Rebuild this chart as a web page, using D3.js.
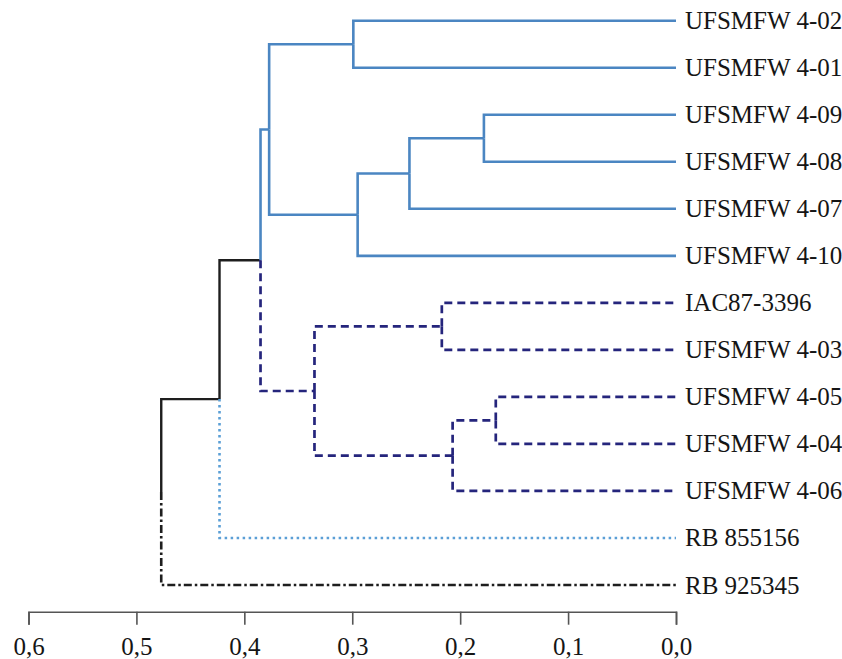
<!DOCTYPE html>
<html>
<head>
<meta charset="utf-8">
<script src="https://cdn.jsdelivr.net/npm/d3@7"></script>
<style>
  body { margin: 0; background: #fff; }
</style>
</head>
<body>
<div id="chart"></div>
<script>
// leaves, top to bottom
var leafNames = [
    "UFSMFW 4-02", "UFSMFW 4-01", "UFSMFW 4-09", "UFSMFW 4-08",
    "UFSMFW 4-07", "UFSMFW 4-10", "IAC87-3396", "UFSMFW 4-03",
    "UFSMFW 4-05", "UFSMFW 4-04", "UFSMFW 4-06", "RB 855156", "RB 925345"
];
var leafGroup = ["I", "I", "I", "I", "I", "I", "II", "II", "II", "II", "II", "III", "IV"];

// merges: index < 13 is a leaf, otherwise 13 + merge row
var mergePairs = [
    [0, 1], [2, 3], [14, 4], [15, 5], [13, 16],
    [6, 7], [8, 9], [19, 10], [18, 20], [17, 21],
    [22, 11], [23, 12]
];
var mergeHeights = [0.299, 0.178, 0.247, 0.295, 0.377,
                    0.217, 0.167, 0.207, 0.335, 0.385,
                    0.423, 0.477];

var tickValues = [0.6, 0.5, 0.4, 0.3, 0.2, 0.1, 0.0];

var width = 842, height = 659;

var svg = d3.select("#chart")
    .append("svg")
    .attr("width", width)
    .attr("height", height);

// build the tree from the merge table
var nodes = leafNames.map((name, i) => ({ name: name, height: 0, group: leafGroup[i] }));
mergePairs.forEach((p, i) => {
    nodes.push({ name: "n" + (13 + i), height: mergeHeights[i], children: [nodes[p[0]], nodes[p[1]]] });
});
var root = d3.hierarchy(nodes[nodes.length - 1]);

// group of an inner node = shared group of its leaves, or "root"
root.eachAfter(d => {
    if (!d.children) { d.group = d.data.group; return; }
    var g = d.children.map(c => c.group);
    d.group = g.every(v => v === g[0]) ? g[0] : "root";
});

var x = d3.scaleLinear()
    .domain([0.6, 0])
    .range([28.5, 676]);

var yLeaf = d3.scalePoint()
    .domain(leafNames)
    .range([20.7, 585]);

root.eachAfter(d => {
    d.px = x(d.data.height);
    d.py = d.children ? d3.mean(d.children, c => c.py) : yLeaf(d.data.name);
});

var styles = {
    "I":    { color: "#4b86c2", w: 2.6, dash: null },
    "II":   { color: "#25257c", w: 2.7, dash: "8,5" },
    "III":  { color: "#5b9fd6", w: 2.6, dash: "2.5,3.5" },
    "IV":   { color: "#1e1e1e", w: 2.6, dash: "8,3,2.5,3" },
    "root": { color: "#1e1e1e", w: 2.4, dash: null }
};

svg.append("g")
    .selectAll("path")
    .data(root.descendants().filter(d => d.parent))
    .enter()
    .append("path")
    .attr("d", d => "M" + d.parent.px + "," + d.parent.py + "V" + d.py + "H" + d.px)
    .attr("fill", "none")
    .attr("stroke", d => styles[d.group].color)
    .attr("stroke-width", d => styles[d.group].w)
    .attr("stroke-dasharray", d => styles[d.group].dash);

svg.append("g")
    .selectAll("text")
    .data(root.leaves())
    .enter()
    .append("text")
    .attr("x", d => d.px + 9)
    .attr("y", d => d.py)
    .attr("dy", "0.34em")
    .style("font-family", "'Liberation Serif', 'Times New Roman', serif")
    .style("font-size", "25px")
    .style("fill", "#151515")
    .text(d => d.data.name);

var axis = svg.append("g")
    .attr("transform", "translate(0,611.7)")
    .call(d3.axisBottom(x)
        .tickValues(tickValues)
        .tickSizeOuter(0)
        .tickSize(13)
        .tickPadding(13)
        .tickFormat(d => d3.format(".1f")(d).replace(".", ",")));

axis.select(".domain").attr("stroke", "#555").attr("stroke-width", 1.6);
axis.selectAll(".tick line").attr("stroke", "#555").attr("stroke-width", 1.6);
axis.selectAll(".tick text")
    .style("font-family", "'Liberation Serif', 'Times New Roman', serif")
    .style("font-size", "25px")
    .style("fill", "#151515");
</script>
</body>
</html>
